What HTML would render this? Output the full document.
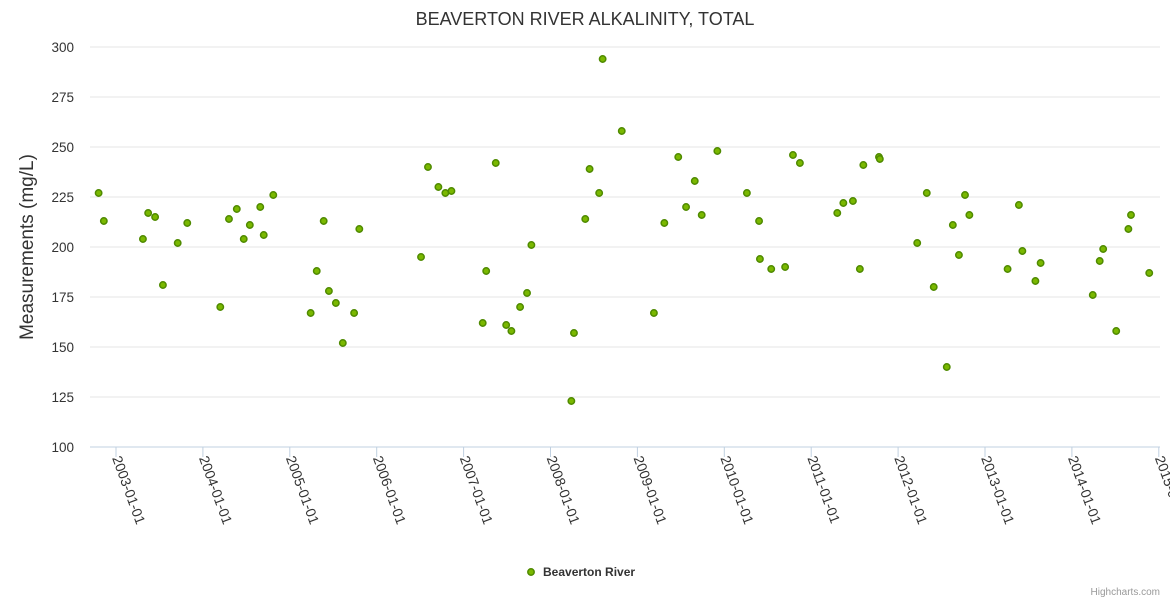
<!DOCTYPE html>
<html><head><meta charset="utf-8"><style>
body{margin:0;background:#fff;}
svg{display:block;font-family:"Liberation Sans",sans-serif;}
</style></head><body>
<svg id="chart" width="1170" height="600">
<text x="585" y="25" text-anchor="middle" font-size="18" fill="#333">BEAVERTON RIVER ALKALINITY, TOTAL</text>
<text transform="translate(33,247) rotate(-90)" text-anchor="middle" font-size="19" fill="#333">Measurements (mg/L)</text>
<g id="grid"></g><g id="xaxis"></g><g id="points"></g>
<g>
<circle cx="531" cy="572" r="3.2" fill="#7ab800" stroke="#4f8a00" stroke-width="1.5"/>
<text x="543" y="576" font-size="12" font-weight="bold" fill="#333">Beaverton River</text>
</g>
<text x="1160" y="595" text-anchor="end" font-size="10" fill="#999">Highcharts.com</text>
</svg>
<script>
const yTicks=[100,125,150,175,200,225,250,275,300];
const xTickYears=[2003,2004,2005,2006,2007,2008,2009,2010,2011,2012,2013,2014,2015];
const dates=[2002.80,2002.86,2003.31,2003.37,2003.45,2003.54,2003.71,2003.82,2004.20,2004.30,2004.39,2004.47,2004.54,2004.66,2004.70,2004.81,2005.24,2005.31,2005.39,2005.45,2005.53,2005.61,2005.74,2005.80,2006.51,2006.59,2006.71,2006.79,2006.86,2007.22,2007.26,2007.37,2007.49,2007.55,2007.65,2007.73,2007.78,2008.24,2008.27,2008.40,2008.45,2008.56,2008.60,2008.82,2009.19,2009.31,2009.47,2009.56,2009.66,2009.74,2009.92,2010.26,2010.40,2010.41,2010.54,2010.70,2010.79,2010.87,2011.30,2011.37,2011.48,2011.56,2011.60,2011.78,2011.79,2012.22,2012.33,2012.41,2012.56,2012.63,2012.70,2012.77,2012.82,2013.26,2013.39,2013.43,2013.58,2013.64,2014.24,2014.32,2014.36,2014.51,2014.65,2014.68,2014.89];
const values=[227,213,204,217,215,181,202,212,170,214,219,204,211,220,206,226,167,188,213,178,172,152,167,209,195,240,230,227,228,162,188,242,161,158,170,177,201,123,157,214,239,227,294,258,167,212,245,220,233,216,248,227,213,194,189,190,246,242,217,222,223,189,241,245,244,202,227,180,140,211,196,226,216,189,221,198,183,192,176,193,199,158,209,216,187];
const NS='http://www.w3.org/2000/svg';
const L=90,R=1160,T=47,B=447;
const ys=v=>B-(v-100)*(B-T)/200;
const xs=t=>116+(t-2003)*86.9;
const g=document.getElementById('grid');
yTicks.forEach(v=>{
 const ln=document.createElementNS(NS,'line');
 ln.setAttribute('x1',L);ln.setAttribute('x2',R);ln.setAttribute('y1',ys(v));ln.setAttribute('y2',ys(v));
 ln.setAttribute('stroke',v===100?'#c0d0e0':'#e6e6e6');
 
 
 g.appendChild(ln);
 const t=document.createElementNS(NS,'text');
 t.setAttribute('x',74);t.setAttribute('y',ys(v)+5);t.setAttribute('text-anchor','end');
 t.setAttribute('font-size','13.5');t.setAttribute('fill','#333');t.textContent=v;
 
 
 g.appendChild(t);
});
const xa=document.getElementById('xaxis');
xTickYears.forEach(yr=>{
 const x=xs(yr);
 const tk=document.createElementNS(NS,'line');
 tk.setAttribute('x1',x);tk.setAttribute('x2',x);tk.setAttribute('y1',B);tk.setAttribute('y2',B+10);
 tk.setAttribute('stroke','#c0d0e0');
 
 
 xa.appendChild(tk);
 const t=document.createElementNS(NS,'text');
 t.setAttribute('transform','translate('+(x-4)+','+(B+11)+') rotate(70)');
 t.setAttribute('font-size','14');t.setAttribute('fill','#333');t.textContent=yr+'-01-01';
 
 
 xa.appendChild(t);
});
const p=document.getElementById('points');
dates.forEach((d,i)=>{
 const c=document.createElementNS(NS,'circle');
 c.setAttribute('cx',xs(d));c.setAttribute('cy',ys(values[i]));c.setAttribute('r',3.2);
 c.setAttribute('fill','#7ab800');c.setAttribute('stroke','#4f8a00');c.setAttribute('stroke-width','1.5');
 
 
 p.appendChild(c);
});
</script>
</body></html>
